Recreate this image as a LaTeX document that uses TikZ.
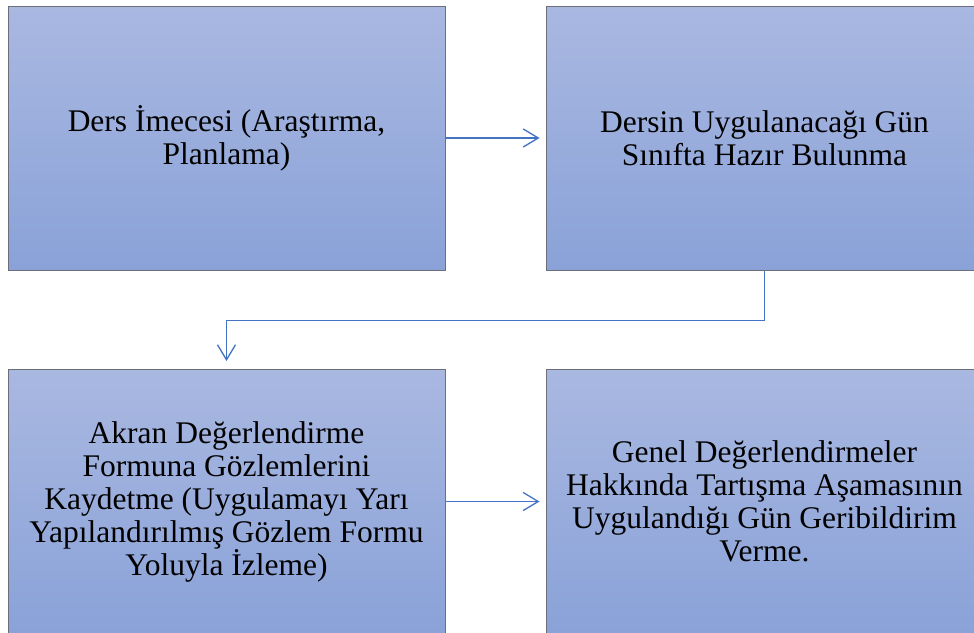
\documentclass[tikz,border=0pt]{standalone}
\usepackage{fontspec}
\setmainfont{Liberation Serif}
\usetikzlibrary{arrows.meta}
\definecolor{boxtop}{HTML}{A9B8E1}
\definecolor{boxbot}{HTML}{8AA2D8}
\definecolor{boxline}{HTML}{6E6E78}
\definecolor{arrowc}{HTML}{4472C4}
\tikzset{
  stepbox/.style={rectangle, draw=boxline, line width=1pt, top color=boxtop, bottom color=boxbot,
    minimum width=437pt, minimum height=264pt, inner sep=0pt, align=center,
    font=\fontsize{31.5pt}{33pt}\selectfont, text=black},
  flow/.style={draw=arrowc, line width=1.3pt, -{Straight Barb[length=15pt,width=18pt,line width=1.3pt]}}
}
\begin{document}
\begin{tikzpicture}[x=1pt,y=-1pt]
\useasboundingbox (0,0) rectangle (974,632);
\clip (0,0) rectangle (974,632);
\node[stepbox] (a) at (226.5,138) {Ders İmecesi (Araştırma,\\Planlama)};
\node[stepbox] (b) at (764.5,138) {Dersin Uygulanacağı Gün\\Sınıfta Hazır Bulunma};
\node[stepbox] (c) at (226.5,501.5) {Akran Değerlendirme\\Formuna Gözlemlerini\\Kaydetme (Uygulamayı Yarı\\Yapılandırılmış Gözlem Formu\\Yoluyla İzleme)};
\node[stepbox] (d) at (764.5,501.5) {Genel Değerlendirmeler\\Hakkında Tartışma Aşamasının\\Uygulandığı Gün Geribildirim\\Verme.};
\draw[flow, shorten >=6pt] (a.east) -- (b.west);
\draw[flow, shorten >=8pt] (b.south) -- ++(0,50) -| (c.north);
\draw[flow, shorten >=6pt] (c.east) -- (d.west);
\end{tikzpicture}
\end{document}
